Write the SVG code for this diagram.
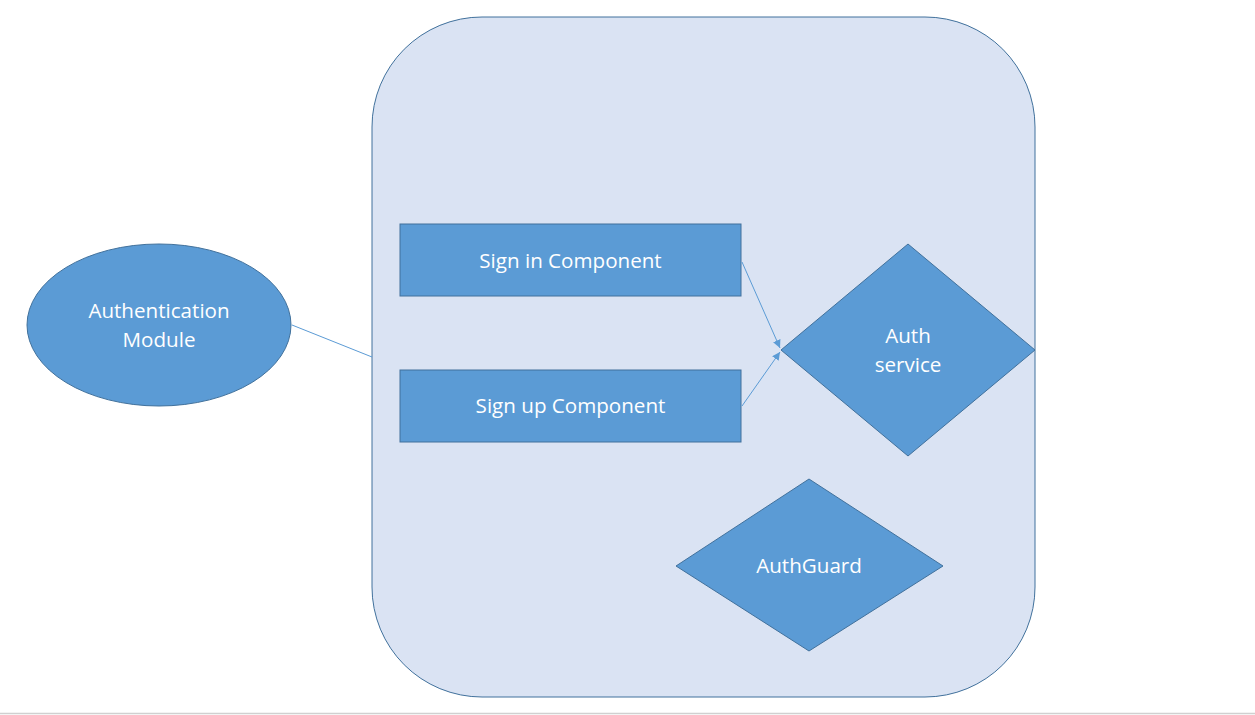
<svg xmlns="http://www.w3.org/2000/svg" width="1255" height="715" viewBox="0 0 1255 715">
<defs>
<style>
.shape{fill:#5B9BD5;stroke:#41719C;stroke-width:1}
.lbl{font-family:"Open Sans","Noto Sans",sans-serif;font-size:20.6px;fill:#FFFFFF;text-anchor:middle}
.conn{stroke:#5B9BD5;stroke-width:1;fill:none}
</style>
<marker id="arr" viewBox="0 0 10 10" refX="10" refY="5" markerWidth="8" markerHeight="8" orient="auto" markerUnits="userSpaceOnUse">
<path d="M0,0 L10,5 L0,10 z" fill="#5B9BD5"/>
</marker>
</defs>
<rect width="1255" height="715" fill="#FFFFFF"/>
<line x1="0" y1="713.5" x2="1255" y2="713.5" stroke="#D0D0D0" stroke-width="1.5"/>
<g id="container">
<rect x="372" y="17" width="663" height="680" rx="110" ry="110" fill="#DAE3F3" stroke="#41719C" stroke-width="1"/>
</g>
<g id="auth-module">
<ellipse class="shape" cx="159" cy="325" rx="132" ry="81"/>
<text class="lbl" x="159" y="318">Authentication</text>
<text class="lbl" x="159" y="347">Module</text>
</g>
<g id="sign-in">
<rect class="shape" x="400" y="224" width="341" height="72"/>
<text class="lbl" x="570.5" y="268">Sign in Component</text>
</g>
<g id="sign-up">
<rect class="shape" x="400" y="370" width="341" height="72"/>
<text class="lbl" x="570.5" y="413">Sign up Component</text>
</g>
<g id="auth-service">
<polygon class="shape" points="781,350 908,244 1035,350 908,456"/>
<text class="lbl" x="908" y="343">Auth</text>
<text class="lbl" x="908" y="372">service</text>
</g>
<g id="auth-guard">
<polygon class="shape" points="676,566 809,479 943,566 809,651"/>
<text class="lbl" x="809" y="573">AuthGuard</text>
</g>
<g id="connectors">
<line class="conn" x1="742" y1="262" x2="780" y2="348" marker-end="url(#arr)"/>
<line class="conn" x1="742" y1="406" x2="780" y2="352" marker-end="url(#arr)"/>
<line class="conn" x1="292" y1="325" x2="372" y2="357"/>
</g>
</svg>
